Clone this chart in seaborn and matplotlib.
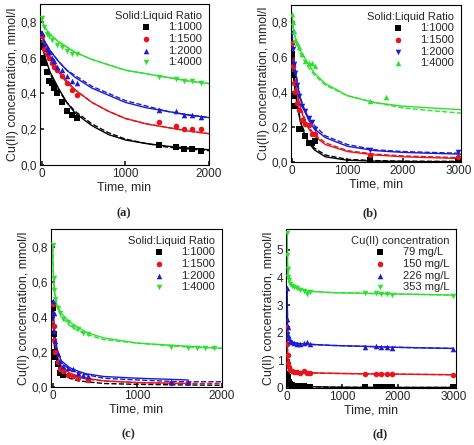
import matplotlib
matplotlib.use("Agg")
import matplotlib.pyplot as plt
import seaborn as sns
import pandas as pd
from matplotlib.ticker import FuncFormatter

sns.set_theme(style="white")
plt.rcParams['font.family'] = ['Liberation Sans', 'DejaVu Sans']

COLORS = ['#000000', '#e8141c', '#1a1ad8', '#30e030']

# ---------- Panel (a) ----------
a_labels = ['1:1000', '1:1500', '1:2000', '1:4000']
a_markers = ['s', 'o', '^', 'v']
a_t = [[0, 10, 30, 60, 90, 120, 150, 180, 240, 300, 360, 420, 1400, 1600, 1700, 1800, 1900],
       [0, 30, 60, 90, 120, 150, 180, 240, 300, 360, 420, 1400, 1600, 1700, 1800, 1900],
       [0, 30, 60, 90, 120, 150, 180, 240, 300, 360, 420, 1400, 1600, 1700, 1800, 1900],
       [0, 30, 60, 90, 120, 180, 240, 300, 360, 420, 1400, 1600, 1700, 1800, 1900]]
a_c = [[0.66, 0.60, 0.57, 0.52, 0.47, 0.46, 0.43, 0.40, 0.35, 0.30, 0.28, 0.26, 0.11, 0.10, 0.09, 0.09, 0.08],
       [0.72, 0.65, 0.62, 0.60, 0.57, 0.55, 0.53, 0.50, 0.46, 0.42, 0.39, 0.24, 0.22, 0.20, 0.20, 0.20],
       [0.74, 0.68, 0.65, 0.63, 0.60, 0.58, 0.55, 0.53, 0.50, 0.47, 0.46, 0.31, 0.30, 0.28, 0.28, 0.27],
       [0.82, 0.77, 0.73, 0.72, 0.70, 0.67, 0.66, 0.64, 0.62, 0.62, 0.49, 0.48, 0.47, 0.47, 0.46]]
a_fit_t = [0, 25, 50, 100, 200, 300, 400, 600, 800, 1000, 1250, 1500, 1750, 2000]
a_fit = [[0.68, 0.63, 0.59, 0.52, 0.43, 0.35, 0.29, 0.22, 0.17, 0.14, 0.12, 0.105, 0.095, 0.085],
         [0.73, 0.69, 0.66, 0.61, 0.53, 0.47, 0.42, 0.35, 0.30, 0.26, 0.23, 0.21, 0.19, 0.175],
         [0.74, 0.70, 0.68, 0.64, 0.58, 0.53, 0.49, 0.43, 0.39, 0.35, 0.32, 0.30, 0.28, 0.265],
         [0.82, 0.78, 0.76, 0.73, 0.69, 0.66, 0.63, 0.59, 0.56, 0.53, 0.51, 0.49, 0.47, 0.455]]
a_fit2 = [[0.70, 0.63, 0.58, 0.51, 0.42, 0.35, 0.30, 0.23, 0.18, 0.145, 0.12, 0.10, 0.09, 0.08],
          [0.74, 0.69, 0.65, 0.60, 0.52, 0.46, 0.42, 0.35, 0.30, 0.26, 0.23, 0.21, 0.19, 0.175],
          [0.75, 0.70, 0.68, 0.64, 0.58, 0.53, 0.50, 0.44, 0.40, 0.36, 0.33, 0.30, 0.28, 0.265],
          [0.82, 0.78, 0.76, 0.73, 0.69, 0.66, 0.63, 0.59, 0.56, 0.53, 0.51, 0.49, 0.47, 0.455]]

# ---------- Panel (b) ----------
b_labels = ['1:1000', '1:1500', '1:2000', '1:4000']
b_markers = ['s', 'o', 'v', '^']
b_t = [[0, 10, 30, 60, 120, 150, 240, 300, 360, 420, 1400, 3000],
       [0, 10, 30, 60, 90, 120, 180, 240, 300, 360, 420, 1400, 3000],
       [0, 10, 30, 60, 90, 120, 180, 240, 300, 360, 420, 1400, 3000],
       [0, 10, 30, 60, 90, 120, 180, 240, 300, 360, 420, 1400, 1700]]
b_c = [[0.62, 0.50, 0.38, 0.32, 0.19, 0.19, 0.15, 0.11, 0.11, 0.12, 0.01, 0.005],
       [0.68, 0.55, 0.45, 0.40, 0.34, 0.30, 0.24, 0.22, 0.21, 0.16, 0.16, 0.04, 0.03],
       [0.74, 0.65, 0.56, 0.51, 0.44, 0.38, 0.32, 0.29, 0.25, 0.23, 0.19, 0.07, 0.06],
       [0.85, 0.80, 0.75, 0.70, 0.68, 0.66, 0.62, 0.58, 0.57, 0.57, 0.55, 0.35, 0.37]]
b_fit_t = [0, 25, 50, 100, 150, 200, 300, 400, 600, 1000, 1500, 2000, 2500, 3050]
b_fit = [[0.62, 0.50, 0.42, 0.31, 0.23, 0.18, 0.11, 0.07, 0.03, 0.01, 0.005, 0.003, 0.002, 0.002],
         [0.68, 0.56, 0.48, 0.38, 0.31, 0.26, 0.19, 0.15, 0.10, 0.06, 0.04, 0.03, 0.025, 0.02],
         [0.74, 0.62, 0.54, 0.44, 0.36, 0.31, 0.24, 0.19, 0.14, 0.09, 0.065, 0.055, 0.05, 0.045],
         [0.83, 0.76, 0.72, 0.68, 0.64, 0.61, 0.56, 0.51, 0.45, 0.38, 0.34, 0.32, 0.31, 0.30]]
b_fit2 = [[0.62, 0.51, 0.43, 0.32, 0.24, 0.19, 0.12, 0.08, 0.04, 0.015, 0.008, 0.005, 0.004, 0.004],
          [0.68, 0.57, 0.49, 0.39, 0.32, 0.27, 0.20, 0.16, 0.11, 0.065, 0.045, 0.035, 0.03, 0.025],
          [0.74, 0.63, 0.55, 0.45, 0.37, 0.32, 0.25, 0.21, 0.15, 0.10, 0.07, 0.06, 0.055, 0.05],
          [0.83, 0.76, 0.72, 0.67, 0.62, 0.59, 0.54, 0.50, 0.44, 0.38, 0.34, 0.31, 0.295, 0.28]]

# ---------- Panel (c) ----------
c_labels = ['1:1000', '1:1500', '1:2000', '1:4000']
c_markers = ['s', 'o', '^', 'v']
c_t = [[0, 10, 20, 30, 60, 90, 120],
       [0, 10, 20, 30, 60, 90, 120, 180, 240, 300, 420, 1400, 1600],
       [0, 10, 20, 30, 60, 90, 120, 180, 240, 300, 360, 420, 1400, 1600],
       [0, 10, 20, 30, 60, 90, 120, 180, 240, 300, 360, 420, 1400, 1600, 1700, 1800, 1900]]
c_c = [[0.45, 0.30, 0.20, 0.17, 0.13, 0.08, 0.07],
       [0.47, 0.35, 0.27, 0.20, 0.14, 0.10, 0.09, 0.07, 0.06, 0.05, 0.04, 0.02, 0.02],
       [0.49, 0.42, 0.32, 0.26, 0.19, 0.15, 0.12, 0.11, 0.10, 0.08, 0.07, 0.06, 0.03, 0.03],
       [0.81, 0.62, 0.55, 0.50, 0.45, 0.42, 0.39, 0.37, 0.34, 0.33, 0.31, 0.30, 0.23, 0.22, 0.22, 0.22, 0.22]]
c_fit_t = [[0, 10, 25, 50, 75, 100, 120],
           [0, 10, 25, 50, 100, 200, 300, 400, 600, 1000, 1600],
           [0, 10, 25, 50, 100, 200, 300, 400, 600, 1000, 1600],
           [0, 10, 25, 50, 100, 200, 300, 400, 600, 1000, 1500, 2000]]
c_fit = [[0.45, 0.32, 0.22, 0.15, 0.11, 0.085, 0.07],
         [0.47, 0.36, 0.26, 0.18, 0.12, 0.08, 0.06, 0.05, 0.035, 0.025, 0.02],
         [0.49, 0.40, 0.30, 0.22, 0.15, 0.11, 0.09, 0.075, 0.06, 0.05, 0.04],
         [0.80, 0.62, 0.53, 0.47, 0.42, 0.37, 0.34, 0.31, 0.28, 0.25, 0.235, 0.22]]
c_fit2_t = [0, 10, 25, 50, 100, 200, 300, 400, 600, 1000, 1500, 2000]
c_fit2 = [[0.45, 0.31, 0.21, 0.14, 0.09, 0.05, 0.035, 0.03, 0.02, 0.015, 0.012, 0.01],
          [0.47, 0.35, 0.25, 0.17, 0.11, 0.07, 0.055, 0.045, 0.035, 0.025, 0.02, 0.02],
          [0.49, 0.39, 0.29, 0.21, 0.14, 0.10, 0.08, 0.07, 0.05, 0.04, 0.03, 0.03],
          [0.80, 0.61, 0.52, 0.46, 0.40, 0.35, 0.32, 0.30, 0.27, 0.25, 0.23, 0.22]]

# ---------- Panel (d) ----------
d_labels = ['79 mg/L', '150 mg/L', '226 mg/L', '353 mg/L']
d_markers = ['s', 'o', '^', 'v']
d_t = [0, 5, 10, 20, 30, 60, 90, 120, 180, 240, 300, 360, 420, 1400, 1600, 1700, 1800, 1900, 3000]
d_c = [[0.50, 0.45, 0.40, 0.30, 0.20, 0.15, 0.10, 0.08, 0.07, 0.06, 0.06, 0.05, 0.05, 0.02, 0.02, 0.02, 0.02, 0.02, 0.02],
       [2.20, 1.60, 1.20, 0.90, 0.75, 0.65, 0.60, 0.58, 0.57, 0.56, 0.60, 0.55, 0.53, 0.52, 0.52, 0.50, 0.50, 0.50, 0.47],
       [3.60, 2.50, 2.20, 1.90, 1.80, 1.70, 1.65, 1.62, 1.60, 1.60, 1.62, 1.65, 1.58, 1.50, 1.52, 1.48, 1.47, 1.45, 1.42],
       [5.60, 4.80, 4.30, 4.00, 3.90, 3.75, 3.70, 3.65, 3.60, 3.55, 3.50, 3.40, 3.48, 3.42, 3.42, 3.40, 3.40, 3.38, 3.33]]
d_fit_t = [0, 10, 25, 50, 100, 200, 400, 800, 1500, 2000, 3000]
d_fit = [[0.50, 0.38, 0.22, 0.14, 0.09, 0.06, 0.05, 0.03, 0.02, 0.02, 0.02],
         [2.20, 1.20, 0.80, 0.66, 0.60, 0.57, 0.55, 0.53, 0.51, 0.50, 0.48],
         [3.60, 2.20, 1.85, 1.72, 1.65, 1.61, 1.58, 1.54, 1.50, 1.47, 1.43],
         [5.60, 4.30, 3.95, 3.80, 3.68, 3.58, 3.50, 3.45, 3.42, 3.40, 3.36]]


def comma(v, pos):
    return f"{v:.1f}".replace('.', ',')


def style_axis(ax, xlim, ylim, xticks, yticks, yfmt):
    ax.set_xlim(*xlim)
    ax.set_ylim(*ylim)
    ax.set_xticks(xticks)
    ax.set_yticks(yticks)
    if yfmt:
        ax.yaxis.set_major_formatter(FuncFormatter(comma))
    ax.tick_params(direction='in', length=3, labelsize=8.5, pad=2,
                   bottom=True, left=True)
    for s in ax.spines.values():
        s.set_color('black')
        s.set_linewidth(0.8)
    ax.set_xlabel('Time, min', fontsize=9, labelpad=1)
    ax.set_ylabel('Cu(II) concentration, mmol/l', fontsize=9, labelpad=1)


def draw(ax, labels, markers, ts, cs, title):
    for i in range(4):
        t = ts[i] if isinstance(ts[0], list) else ts
        df = pd.DataFrame({'t': t, 'c': cs[i]})
        sns.scatterplot(data=df, x='t', y='c', ax=ax, marker=markers[i], color=COLORS[i],
                        s=16, edgecolor=COLORS[i], linewidth=0, label=labels[i], zorder=3)
    leg = ax.legend(title=title, loc='upper right', frameon=False, fontsize=8,
                    title_fontsize=8, handletextpad=0.8, borderaxespad=0.2,
                    labelspacing=0.15, markerscale=1.0, handlelength=2.5)
    leg._legend_box.align = 'right'


def fit_lines(ax, tt, ys, ls):
    for i in range(4):
        t = tt[i] if isinstance(tt[0], list) else tt
        df = pd.DataFrame({'t': t, 'c': ys[i]})
        sns.lineplot(data=df, x='t', y='c', ax=ax, color=COLORS[i], lw=1.0,
                     linestyle=ls, legend=False, zorder=2)


fig = plt.figure(figsize=(4.74, 4.45), dpi=100)
W, H = 474, 445
def rect(x0, x1, y0, y1):
    return [x0 / W, 1 - y1 / H, (x1 - x0) / W, (y1 - y0) / H]

axa = fig.add_axes(rect(40, 209, 4, 165))
axb = fig.add_axes(rect(291, 461, 5, 162))
axc = fig.add_axes(rect(51, 222, 229, 387))
axd = fig.add_axes(rect(286, 456, 229, 388))

fit_lines(axa, a_fit_t, a_fit, '-')
fit_lines(axa, a_fit_t, a_fit2, '--')
draw(axa, a_labels, a_markers, a_t, a_c, 'Solid:Liquid Ratio')
style_axis(axa, (-20, 2000), (0, 0.9), [0, 1000, 2000], [0, 0.2, 0.4, 0.6, 0.8], True)

fit_lines(axb, b_fit_t, b_fit, '-')
fit_lines(axb, b_fit_t, b_fit2, '--')
draw(axb, b_labels, b_markers, b_t, b_c, 'Solid:Liquid Ratio')
style_axis(axb, (-20, 3050), (0, 0.9), [0, 1000, 2000, 3000], [0, 0.2, 0.4, 0.6, 0.8], True)

fit_lines(axc, c_fit_t, c_fit, '-')
fit_lines(axc, c_fit2_t, c_fit2, '--')
draw(axc, c_labels, c_markers, c_t, c_c, 'Solid:Liquid Ratio')
style_axis(axc, (-20, 2000), (0, 0.9), [0, 1000, 2000], [0, 0.2, 0.4, 0.6, 0.8], True)

fit_lines(axd, d_fit_t, d_fit, '-')
fit_lines(axd, d_fit_t, d_fit, '--')
draw(axd, d_labels, d_markers, d_t, d_c, 'Cu(II) concentration')
style_axis(axd, (-20, 3050), (0, 5.75), [0, 1000, 2000, 3000], [0, 1, 2, 3, 4, 5], False)

for lab, x, y in [('(a)', 124, 213), ('(b)', 370, 213), ('(c)', 128, 434), ('(d)', 380, 434)]:
    fig.text(x / W, 1 - y / H, lab, ha='center', va='center', fontsize=9,
             family=['Liberation Serif', 'DejaVu Serif'], fontweight='bold')

fig.savefig('out.png', dpi=100, facecolor='white')
